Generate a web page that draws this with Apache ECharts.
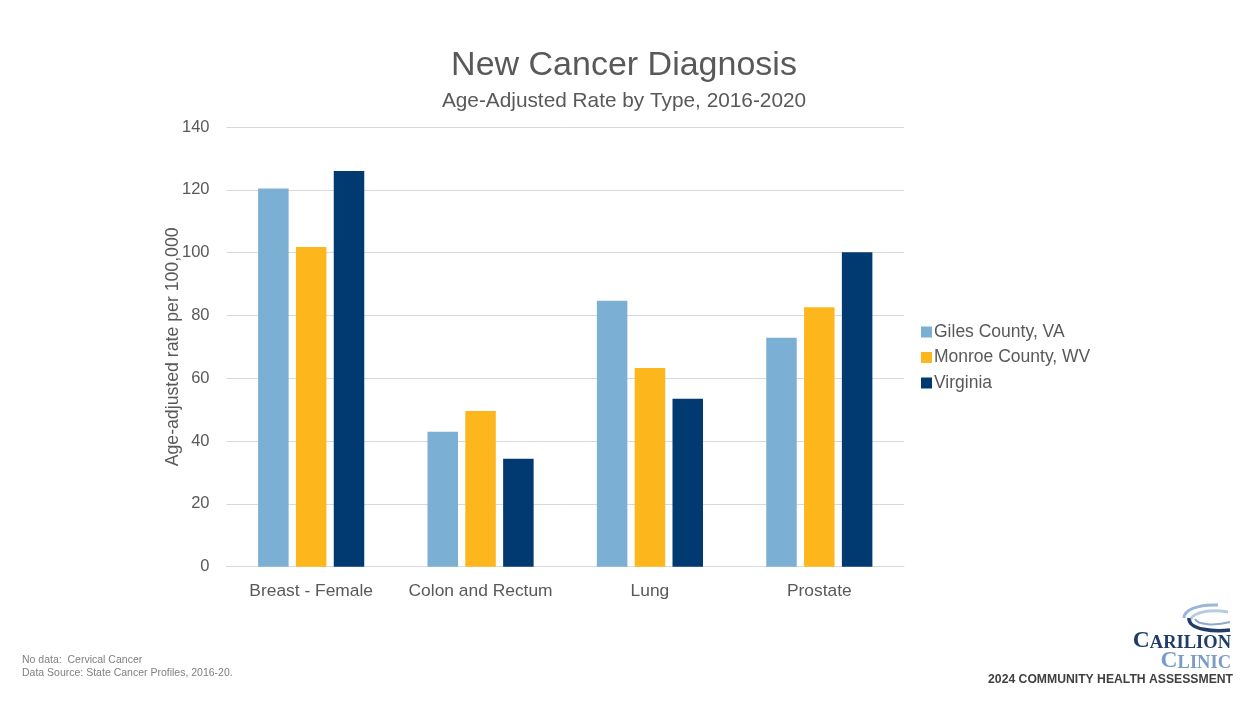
<!DOCTYPE html>
<html><head><meta charset="utf-8">
<script src="https://cdn.jsdelivr.net/npm/echarts@6/dist/echarts.min.js"></script>
<style>html,body{margin:0;padding:0;background:#fff}#c{width:1247px;height:702px}</style>
</head><body><div id="c"></div>
<script>
const categories = ['Breast - Female', 'Colon and Rectum', 'Lung', 'Prostate'];
const gilesVA = [120.4, 43.0, 84.7, 72.9];
const monroeWV = [101.8, 49.6, 63.3, 82.6];
const virginia = [126.0, 34.4, 53.5, 100.1];
const seriesNames = ['Giles County, VA', 'Monroe County, WV', 'Virginia'];
const yTicks = [0, 20, 40, 60, 80, 100, 120, 140];

const FONT = '"Liberation Sans", Arial, sans-serif';
const SERIF = '"Liberation Serif", serif';
const chart = echarts.init(document.getElementById('c'));
chart.setOption({
  backgroundColor: '#fff',
  animation: false,
  textStyle: { fontFamily: FONT },
  legend: {
    orient: 'vertical', left: 921, top: 323, padding: 0, itemWidth: 11, itemHeight: 11, itemGap: 7.5,
    icon: 'rect', data: seriesNames,
    textStyle: { fontSize: 17.5, color: '#595959', fontFamily: FONT, padding: [0, 0, 0, -3] }
  },
  grid: { left: 226.5, right: 343, top: 127, bottom: 135.3, containLabel: false },
  xAxis: {
    type: 'category', data: categories,
    axisLine: { show: true, lineStyle: { color: '#d9d9d9', width: 1 } },
    axisTick: { show: false },
    axisLabel: { fontSize: 17.4, color: '#595959', margin: 16, interval: 0, fontFamily: FONT }
  },
  yAxis: {
    type: 'value', min: yTicks[0], max: yTicks[yTicks.length - 1], interval: 20,
    name: 'Age-adjusted rate per 100,000', nameLocation: 'middle', nameGap: 44, nameMoveOverlap: false,
    nameTextStyle: { fontSize: 17.7, color: '#595959', fontFamily: FONT },
    axisLine: { show: false }, axisTick: { show: false },
    axisLabel: { fontSize: 16.5, color: '#595959', margin: 17, fontFamily: FONT },
    splitLine: { lineStyle: { color: '#d9d9d9', width: 1 } }
  },
  series: [
    { name: seriesNames[0], type: 'bar', data: gilesVA, itemStyle: { color: '#7bafd4' }, barWidth: 30.5, barGap: '24%' },
    { name: seriesNames[1], type: 'bar', data: monroeWV, itemStyle: { color: '#fdb71d' }, barWidth: 30.5, barGap: '24%' },
    { name: seriesNames[2], type: 'bar', data: virginia, itemStyle: { color: '#003a70' }, barWidth: 30.5, barGap: '24%' }
  ],
  graphic: [
    { type: 'text', x: 624, y: 66, style: { text: 'New Cancer Diagnosis', fontSize: 34, fill: '#595959', fontFamily: FONT, textAlign: 'center', textVerticalAlign: 'middle' } },
    { type: 'text', x: 624, y: 101, style: { text: 'Age-Adjusted Rate by Type, 2016-2020', fontSize: 20.8, fill: '#595959', fontFamily: FONT, textAlign: 'center', textVerticalAlign: 'middle' } },
    { type: 'text', left: 22, top: 655, style: { text: 'No data:  Cervical Cancer', fontSize: 10.5, fill: '#7f7f7f', fontFamily: FONT } },
    { type: 'text', left: 22, top: 668, style: { text: 'Data Source: State Cancer Profiles, 2016-20.', fontSize: 10.5, fill: '#7f7f7f', fontFamily: FONT } },
    { type: 'text', right: 14, top: 674, style: { text: '2024 COMMUNITY HEALTH ASSESSMENT', fontSize: 12.2, fontWeight: 'bold', fill: '#404040', fontFamily: FONT } },
    { type: 'text', right: 16, top: 629, style: {
        text: '{b|C}{s|ARILION}', fill: '#1f3d68', fontFamily: SERIF,
        rich: { b: { fontSize: 23.5, fontWeight: 'bold', fill: '#1f3d68', fontFamily: SERIF, verticalAlign: 'bottom' },
                s: { fontSize: 18.5, fontWeight: 'bold', fill: '#1f3d68', fontFamily: SERIF, verticalAlign: 'bottom' } } } },
    { type: 'text', right: 16, top: 649, style: {
        text: '{b|C}{s|LINIC}', fill: '#7a9cc6', fontFamily: SERIF,
        rich: { b: { fontSize: 23.5, fontWeight: 'bold', fill: '#7a9cc6', fontFamily: SERIF, verticalAlign: 'bottom' },
                s: { fontSize: 18.5, fontWeight: 'bold', fill: '#7a9cc6', fontFamily: SERIF, verticalAlign: 'bottom' } } } },
    { type: 'bezierCurve', shape: { x1: 1218, y1: 605, x2: 1184, y2: 618, cpx1: 1198, cpy1: 604, cpx2: 1184, cpy2: 610 },
      style: { stroke: '#9bb7d6', lineWidth: 3, fill: null } },
    { type: 'bezierCurve', shape: { x1: 1228, y1: 612, x2: 1190, y2: 622, cpx1: 1203, cpy1: 608, cpx2: 1190, cpy2: 615 },
      style: { stroke: '#b9cbe0', lineWidth: 3, fill: null } },
    { type: 'bezierCurve', shape: { x1: 1189, y1: 618, x2: 1230, y2: 630, cpx1: 1188, cpy1: 630, cpx2: 1215, cpy2: 632 },
      style: { stroke: '#1f3d68', lineWidth: 3.5, fill: null } },
    { type: 'bezierCurve', shape: { x1: 1195, y1: 619, x2: 1230, y2: 622, cpx1: 1198, cpy1: 625, cpx2: 1215, cpy2: 626 },
      style: { stroke: '#8fa9c8', lineWidth: 2, fill: null } }
  ]
});
</script></body></html>
